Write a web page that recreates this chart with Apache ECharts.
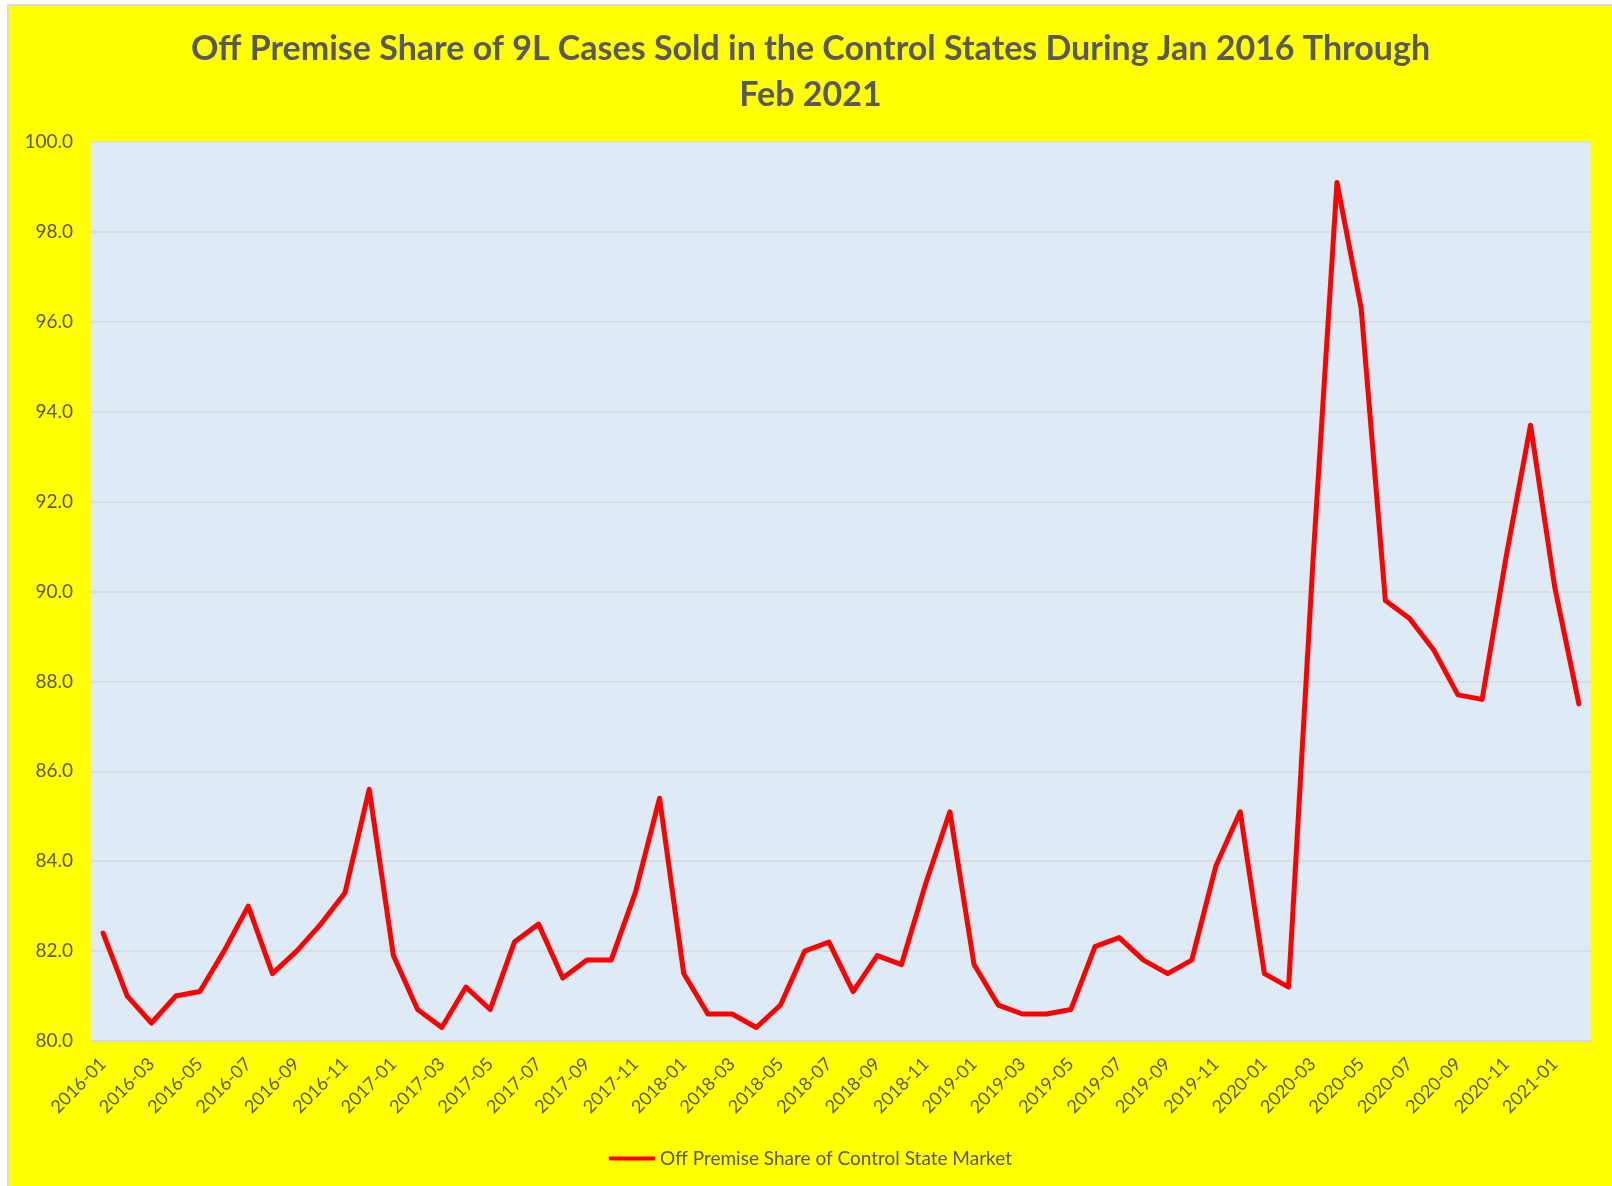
<!DOCTYPE html>
<html>
<head>
<meta charset="utf-8">
<script src="https://cdn.jsdelivr.net/npm/echarts@6/dist/echarts.min.js"></script>
<style>
  html, body { margin: 0; padding: 0; background: #ffffff; width: 1612px; height: 1186px; overflow: hidden; }
  #wrap { position: absolute; left: 7px; top: 4px; border-left: 2px solid #d9d9d9; border-top: 2px solid #d9d9d9; }
  #chart { width: 1603px; height: 1180px; background: #ffff00; }
</style>
</head>
<body>
<div id="wrap"><div id="chart"></div></div>
<script>
const titleText = 'Off Premise Share of 9L Cases Sold in the Control States During Jan 2016 Through\nFeb 2021';
const seriesName = 'Off Premise Share of Control State Market';

const months = [
  '2016-01','2016-02','2016-03','2016-04','2016-05','2016-06','2016-07','2016-08','2016-09','2016-10','2016-11','2016-12',
  '2017-01','2017-02','2017-03','2017-04','2017-05','2017-06','2017-07','2017-08','2017-09','2017-10','2017-11','2017-12',
  '2018-01','2018-02','2018-03','2018-04','2018-05','2018-06','2018-07','2018-08','2018-09','2018-10','2018-11','2018-12',
  '2019-01','2019-02','2019-03','2019-04','2019-05','2019-06','2019-07','2019-08','2019-09','2019-10','2019-11','2019-12',
  '2020-01','2020-02','2020-03','2020-04','2020-05','2020-06','2020-07','2020-08','2020-09','2020-10','2020-11','2020-12',
  '2021-01','2021-02'
];

const offPremiseShare = [
  82.4, 81.0, 80.4, 81.0, 81.1, 82.0, 83.0, 81.5, 82.0, 82.6, 83.3, 85.6,
  81.9, 80.7, 80.3, 81.2, 80.7, 82.2, 82.6, 81.4, 81.8, 81.8, 83.3, 85.4,
  81.5, 80.6, 80.6, 80.3, 80.8, 82.0, 82.2, 81.1, 81.9, 81.7, 83.5, 85.1,
  81.7, 80.8, 80.6, 80.6, 80.7, 82.1, 82.3, 81.8, 81.5, 81.8, 83.9, 85.1,
  81.5, 81.2, 90.6, 99.1, 96.3, 89.8, 89.4, 88.7, 87.7, 87.6, 90.8, 93.7,
  90.1, 87.5
];

const yMin = 80, yMax = 100, yStep = 2;

const chart = echarts.init(document.getElementById('chart'), null, { renderer: 'canvas' });
const textColor = '#595959';
const font = 'Lato, "Open Sans", "Noto Sans", sans-serif';

chart.setOption({
  backgroundColor: '#ffff00',
  animation: false,
  title: {
    text: titleText,
    left: 'center',
    top: 15,
    textStyle: { color: textColor, fontFamily: font, fontWeight: 'bold', fontSize: 34, lineHeight: 46 }
  },
  legend: {
    bottom: 13,
    left: 'center',
    itemWidth: 46,
    itemHeight: 4,
    itemGap: 2,
    textStyle: { color: textColor, fontFamily: font, fontSize: 19 },
    data: [{ name: seriesName, icon: 'roundRect' }]
  },
  grid: {
    left: 82, right: 21, top: 136, bottom: 145,
    show: true, backgroundColor: '#deebf7', borderWidth: 0,
    containLabel: false
  },
  xAxis: {
    type: 'category',
    data: months,
    boundaryGap: true,
    axisLine: { show: true, lineStyle: { color: '#d9d9d9', width: 1.5 } },
    axisTick: { show: false },
    axisLabel: {
      interval: 1,
      rotate: 45,
      color: textColor,
      fontFamily: font,
      fontSize: 18,
      margin: 20
    },
    splitLine: { show: false }
  },
  yAxis: {
    type: 'value',
    min: yMin, max: yMax, interval: yStep,
    axisLine: { show: false },
    axisTick: { show: false },
    axisLabel: {
      color: textColor, fontFamily: font, fontSize: 19, margin: 18,
      formatter: v => v.toFixed(1)
    },
    splitLine: { show: true, lineStyle: { color: '#d9d9d9', width: 1.5 } }
  },
  series: [{
    name: seriesName,
    type: 'line',
    data: offPremiseShare,
    showSymbol: false,
    symbol: 'none',
    lineStyle: { color: '#ff0000', width: 5, join: 'round', cap: 'round' },
    itemStyle: { color: '#ff0000' }
  }]
});
</script>
</body>
</html>
